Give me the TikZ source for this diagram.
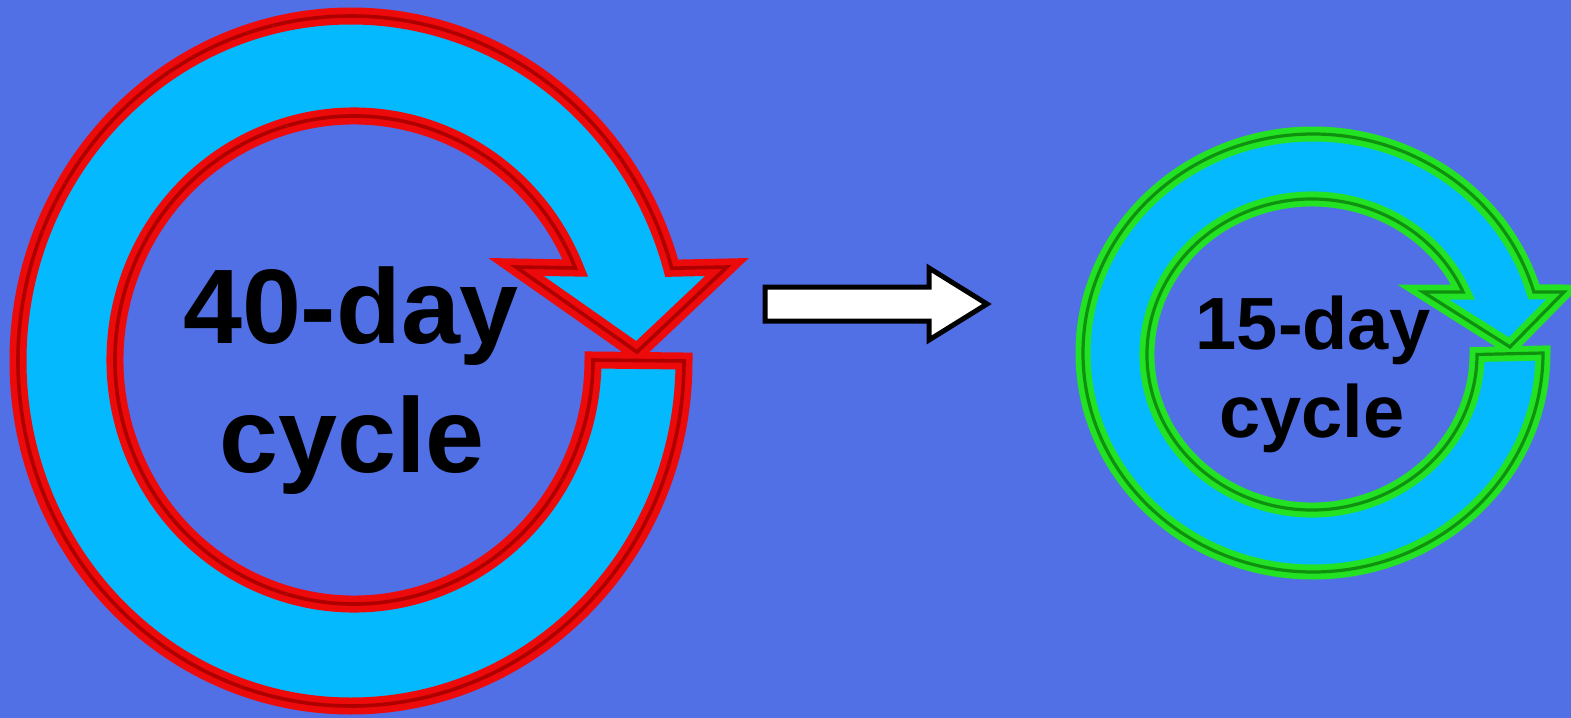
\documentclass[tikz,border=0pt]{standalone}
\usepackage{fontspec}
\setmainfont{Liberation Sans}
\definecolor{bg}{RGB}{82,112,229}
\definecolor{cyanfill}{RGB}{5,185,255}
\definecolor{redA}{RGB}{236,10,10}
\definecolor{redB}{RGB}{175,0,0}
\definecolor{grnA}{RGB}{35,225,35}
\definecolor{grnB}{RGB}{15,145,15}
\tikzset{
  redring/.style={fill=cyanfill, draw=redA, line width=8.5pt, line join=miter,
    postaction={draw=redB, line width=1.8pt}},
  greenring/.style={fill=cyanfill, draw=grnA, line width=7.5pt, line join=miter,
    postaction={draw=grnB, line width=1.6pt}},
  bigtext/.style={font=\fontsize{53}{63}\selectfont\bfseries, anchor=base, inner sep=0pt},
  smalltext/.style={font=\fontsize{37}{44}\selectfont\bfseries, anchor=base, inner sep=0pt},
  whitearrow/.style={fill=white, draw=black, line width=2.5pt, line join=miter}
}
\begin{document}
\begin{tikzpicture}[x=0.5pt,y=-0.5pt]
\fill[bg] (0,0) rectangle (1571,718);
\useasboundingbox (0,0) rectangle (1571,718);

% left circular arrow (40-day)
\path[redring] (684,361) arc[start angle=0, end angle=344.4, x radius=333, y radius=345]
  -- (727,267) -- (637,352) -- (516,267)
  -- ({354+239*cos(337.85)},{360+244*sin(337.85)})
  arc[start angle=337.85, end angle=0, x radius=239, y radius=244] -- cycle;

% right circular arrow (15-day)
\path[greenring] (1543,353) arc[start angle=0, end angle=343.8, x radius=230, y radius=219]
  -- (1564,292) -- (1510,347) -- (1423,292)
  -- ({1312+165*cos(336.3)},{354.5+155.5*sin(336.3)})
  arc[start angle=336.3, end angle=0, x radius=165, y radius=155.5] -- cycle;

% middle white arrow
\draw[whitearrow] (765,287) -- (929,287) -- (929,268) -- (987,304) -- (929,340) -- (929,321) -- (765,321) -- cycle;

\node[bigtext] (t40a) at (351,343) {40-day};
\node[bigtext] (t40b) at (352,472) {cycle};
\node[smalltext] (t15a) at (1313,349) {15-day};
\node[smalltext] (t15b) at (1312,437) {cycle};
\end{tikzpicture}
\end{document}
